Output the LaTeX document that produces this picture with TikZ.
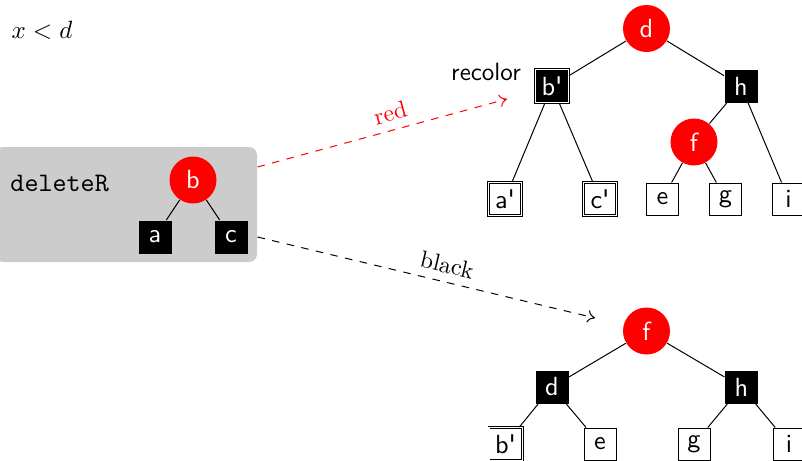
\documentclass[tikz,border=0pt]{standalone}
\usepackage{fontspec}
\usetikzlibrary{arrows.meta}
\begin{document}
\begin{tikzpicture}[x=0.4pt,y=-0.4pt,
  nf/.style={font=\sffamily\fontsize{10.5}{12}\selectfont},
  rn/.style={nf,circle,fill=red,text=white,minimum size=18.8pt,inner sep=0pt},
  bn/.style={nf,rectangle,fill=black,text=white,minimum size=13.2pt,inner sep=0pt},
  wn/.style={nf,rectangle,draw=black,line width=0.4pt,fill=white,minimum size=12.8pt,inner sep=0pt},
  dbl/.style={nf,rectangle,draw=black,line width=0.3pt,double=white,double distance=0.5pt,minimum size=13.3pt,inner sep=0pt},
  dblw/.style={dbl,fill=white,text=black},
  dblb/.style={dbl,fill=black,text=white},
  tedge/.style={draw=black,line width=0.4pt},
  darrow/.style={dashed,line width=0.4pt,-{To[length=3pt,width=5pt]}},
  lbl/.style={font=\fontsize{9.5}{11}\selectfont},
]
\useasboundingbox (0,0) rectangle (802,461);

% x < d
\node (cond) at (42,30) {$x<d$};

% grey box
\node[fill=black!20,rounded corners=3.2pt,minimum width=104.8pt,minimum height=46pt,inner sep=0pt] (box) at (126,204.5) {};
\node[anchor=west,inner sep=0pt,font=\ttfamily\fontsize{10.7}{12}\selectfont] (del) at (10,183) {deleteR};
\node[rn] (mb) at (193,180) {b};
\node[bn] (ma) at (155,237) {a};
\node[bn] (mc) at (231,237) {c};
\draw[tedge] (mb) -- (ma);
\draw[tedge] (mb) -- (mc);

% top tree
\node[rn] (td) at (646.5,28.5) {d};
\node[dblb] (tb) at (552,86) {b\textquotesingle};
\node[bn] (th) at (741,86) {h};
\node[rn] (tf) at (694,142) {f};
\node[dblw] (ta) at (505,199) {a\textquotesingle};
\node[dblw] (tc) at (600,199) {c\textquotesingle};
\node[wn] (te) at (662.5,199) {e};
\node[wn] (tg) at (725.5,199) {g};
\node[wn] (ti) at (788.5,199) {i};
\node[font=\sffamily\fontsize{10}{12}\selectfont] (rec) at (486,72) {recolor};
\draw[tedge] (td) -- (tb);
\draw[tedge] (td) -- (th);
\draw[tedge] (tb) -- (ta);
\draw[tedge] (tb) -- (tc);
\draw[tedge] (th) -- (tf);
\draw[tedge] (th) -- (ti);
\draw[tedge] (tf) -- (te);
\draw[tedge] (tf) -- (tg);

% bottom tree
\node[rn] (bf) at (646.5,331) {f};
\node[bn] (bd) at (552,387) {d};
\node[bn] (bh) at (741.5,387) {h};
\node[dblw] (bb) at (505.5,444) {b\textquotesingle};
\node[wn] (be) at (600,444) {e};
\node[wn] (bg) at (694,444) {g};
\node[wn] (bi) at (789,444) {i};
\draw[tedge] (bf) -- (bd);
\draw[tedge] (bf) -- (bh);
\draw[tedge] (bd) -- (bb);
\draw[tedge] (bd) -- (be);
\draw[tedge] (bh) -- (bg);
\draw[tedge] (bh) -- (bi);

% arrows
\coordinate (rend) at (507,99);
\coordinate (bend) at (595,318);
\draw[darrow,red] ([yshift=15pt]box.east) -- node[pos=0.55,above,sloped,lbl]{red} (rend);
\draw[darrow,black] ([yshift=-13pt]box.east) -- node[pos=0.55,above,sloped,lbl]{black} (bend);
\end{tikzpicture}
\end{document}
